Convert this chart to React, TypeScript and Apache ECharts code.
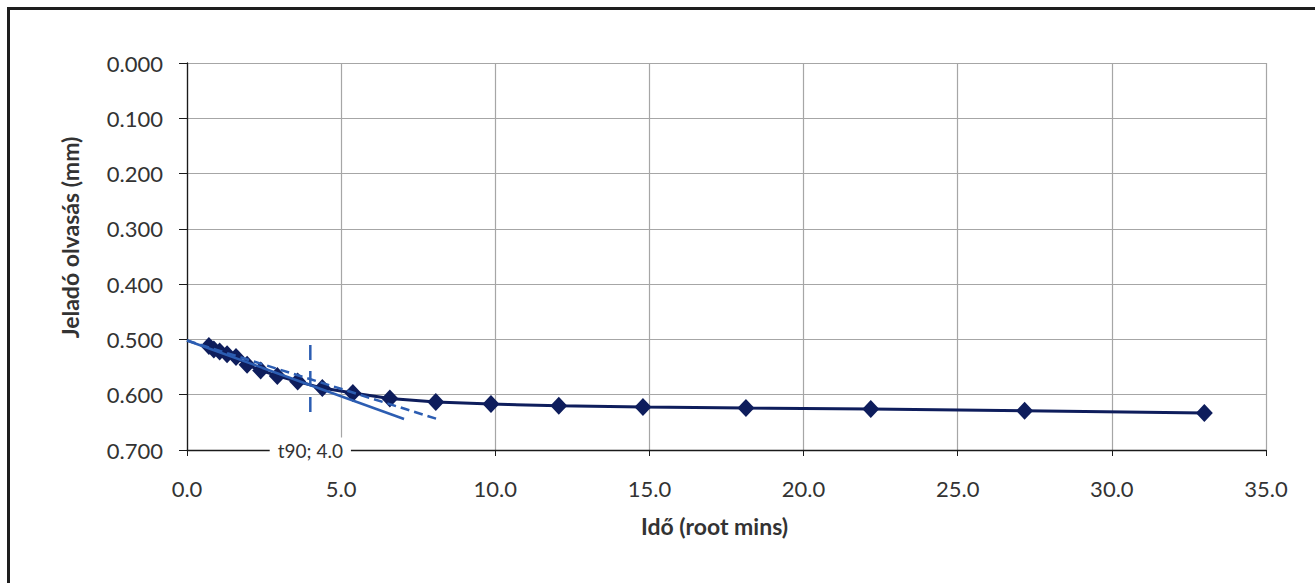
import React, { useEffect, useRef } from "react";
import * as echarts from "echarts";

// sqrt(time) values (root mins)
const rootTime: number[] = [
  0.71, 0.87, 1.06, 1.3, 1.59, 1.95, 2.39, 2.93, 3.59, 4.39, 5.38, 6.58, 8.07,
  9.86, 12.06, 14.79, 18.13, 22.18, 27.17, 33.0,
];
// transducer reading (mm)
const reading: number[] = [
  0.512, 0.518, 0.522, 0.527, 0.532, 0.546, 0.556, 0.566, 0.576, 0.588, 0.597,
  0.607, 0.613, 0.617, 0.62, 0.622, 0.624, 0.626, 0.629, 0.633,
];
// initial tangent line and 1.15x construction line
const tangentX: number[] = [0, 7.04];
const tangentY: number[] = [0.502, 0.644];
const constructX: number[] = [0, 8.12];
const constructY: number[] = [0.502, 0.644];
// t90 marker
const t90X: number[] = [4.0, 4.0];
const t90Y: number[] = [0.51, 0.633];
const t90Label = "t90; 4.0";
const t90LabelPos: number[] = [4.0, 0.7];

const xTicks = { min: 0, max: 35, interval: 5 };
const yTicks = { min: 0, max: 0.7, interval: 0.1 };

const FONT = "Lato";
const NAVY = "#0e1d5c";
const BLUE = "#2c5db2";

export default function App() {
  const ref = useRef<HTMLDivElement>(null);
  useEffect(() => {
    if (!ref.current) return;
    const chart = echarts.init(ref.current, undefined, { renderer: "svg" });
    const pairs = (xs: number[], ys: number[]) => xs.map((x, i) => [x, ys[i]]);
    chart.setOption({
      animation: false,
      backgroundColor: "#ffffff",
      textStyle: { fontFamily: FONT },
      grid: { left: 177, top: 53, right: 49, bottom: 133, containLabel: false },
      xAxis: {
        type: "value",
        min: xTicks.min,
        max: xTicks.max,
        interval: xTicks.interval,
        name: "Idő (root mins)",
        nameLocation: "middle",
        nameGap: 64,
        nameTextStyle: {
          fontFamily: FONT,
          fontWeight: "bold",
          fontSize: 23,
          color: "#333333",
          padding: [0, 24, 0, 0],
        },
        axisLine: { show: true, onZero: false, lineStyle: { color: "#1a1a1a", width: 1.3 } },
        axisTick: { show: true, inside: false, length: 6, lineStyle: { color: "#1a1a1a" } },
        axisLabel: {
          margin: 27,
          fontFamily: FONT,
          fontSize: 22,
          color: "#333333",
          formatter: (v: number) => v.toFixed(1),
        },
        splitLine: { show: true, lineStyle: { color: "#a6a6a6", width: 1.2 } },
      },
      yAxis: {
        type: "value",
        inverse: true,
        min: yTicks.min,
        max: yTicks.max,
        interval: yTicks.interval,
        name: "Jeladó olvasás (mm)",
        nameLocation: "middle",
        nameGap: 106,
        nameTextStyle: {
          fontFamily: FONT,
          fontWeight: "bold",
          fontSize: 23,
          color: "#333333",
          padding: [0, 0, 0, 38],
        },
        axisLine: { show: true, onZero: false, lineStyle: { color: "#1a1a1a", width: 1.3 } },
        axisTick: { show: true, inside: false, length: 8, lineStyle: { color: "#1a1a1a" } },
        axisLabel: {
          margin: 24,
          fontFamily: FONT,
          fontSize: 22,
          color: "#333333",
          formatter: (v: number) => v.toFixed(3),
        },
        splitLine: { show: true, lineStyle: { color: "#a6a6a6", width: 1.2 } },
      },
      series: [
        {
          type: "line",
          name: "data",
          data: pairs(rootTime, reading),
          symbol: "diamond",
          symbolSize: [17, 18],
          itemStyle: { color: NAVY, opacity: 1 },
          lineStyle: { color: NAVY, width: 3 },
          z: 3,
        },
        {
          type: "line",
          name: "tangent",
          data: pairs(tangentX, tangentY),
          symbol: "none",
          lineStyle: { color: BLUE, width: 2.5 },
          z: 4,
        },
        {
          type: "line",
          name: "construct",
          data: pairs(constructX, constructY),
          symbol: "none",
          lineStyle: { color: BLUE, width: 2.5, type: [9, 5] },
          z: 4,
        },
        {
          type: "line",
          name: "t90",
          data: pairs(t90X, t90Y),
          symbol: "none",
          lineStyle: { color: BLUE, width: 2.5, type: [15, 11] },
          z: 4,
        },
        {
          type: "scatter",
          name: "t90label",
          data: [t90LabelPos],
          symbolSize: 0,
          clip: false,
          z: 5,
          itemStyle: { opacity: 1 },
          label: {
            show: true,
            position: "inside",
            formatter: t90Label,
            fontFamily: FONT,
            fontSize: 19,
            color: "#333333",
            opacity: 1,
            backgroundColor: "#ffffff",
            padding: [3, 8, 3, 8],
          },
        },
      ],
    });
    return () => chart.dispose();
  }, []);
  return (
    <div
      style={{
        position: "fixed",
        left: 7,
        top: 7,
        width: 1308,
        height: 576,
        borderTop: "3px solid #1e1e1e",
        borderLeft: "3px solid #1e1e1e",
        boxSizing: "border-box",
      }}
    >
      <div ref={ref} style={{ width: "100%", height: "100%" }} />
    </div>
  );
}
